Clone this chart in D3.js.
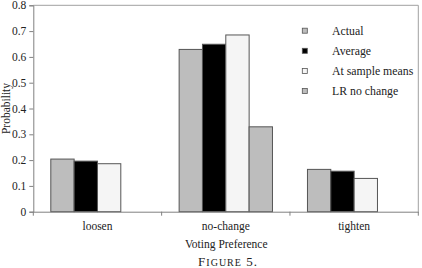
<!DOCTYPE html>
<html><head><meta charset="utf-8">
<script src="https://cdn.jsdelivr.net/npm/d3@7"></script>
<style>body{margin:0;background:#fff}svg{display:block}text{font-family:"Liberation Serif","DejaVu Serif",serif !important;fill:#222}</style>
</head><body>
<svg id="c" width="422" height="268"></svg>
<script>
const categories = ["loosen", "no-change", "tighten"];
const series = ["Actual", "Average", "At sample means", "LR no change"];
const actual = [0.204, 0.629, 0.164];
const average = [0.196, 0.649, 0.157];
const sampleMeans = [0.186, 0.685, 0.129];
const lrNoChange = [null, 0.329, null];
const yTicks = [0, 0.1, 0.2, 0.3, 0.4, 0.5, 0.6, 0.7, 0.8];
const colors = ["#bdbdbd", "#000000", "#f5f5f5", "#bdbdbd"];

const values = [actual, average, sampleMeans, lrNoChange];
const svg = d3.select("#c");
const L = 33.3, R = 418.3, T = 5.3, B = 211.7;
const FF = "'Liberation Serif', 'DejaVu Serif', serif";

const x0 = d3.scaleBand().domain(categories).range([L, R]).padding(0);
const x1 = d3.scaleBand().domain(series).range([0, x0.bandwidth()]).paddingInner(0).paddingOuter(0.75);
const y = d3.scaleLinear().domain([0, 0.8]).range([B, T]);

svg.append("path").attr("d", `M${L},${T}H${R}V${B}`).attr("fill","none").attr("stroke","#a0a0a0").attr("stroke-width",1);

categories.forEach((c, ci) => {
  series.forEach((s, si) => {
    const v = values[si][ci];
    if (v == null) return;
    svg.append("rect")
      .attr("x", x0(c) + x1(s))
      .attr("y", y(v))
      .attr("width", x1.bandwidth())
      .attr("height", y(0) - y(v))
      .attr("fill", colors[si])
      .attr("stroke", "#555")
      .attr("stroke-width", 1);
  });
});

const yAxis = svg.append("g").attr("transform", `translate(${L},0)`)
  .call(d3.axisLeft(y).tickValues(yTicks).tickSize(4).tickPadding(3).tickFormat(d => d === 0 ? "0" : d3.format(".1f")(d)));
yAxis.attr("font-family", FF);
yAxis.select(".domain").attr("stroke", "#808080");
yAxis.selectAll(".tick line").attr("stroke", "#808080");
yAxis.selectAll("text").attr("font-size", 11.5).attr("fill", "#222");

const xAxis = svg.append("g").attr("transform", `translate(0,${B})`)
  .call(d3.axisBottom(x0).tickSize(0).tickPadding(10));
xAxis.attr("font-family", FF);
xAxis.select(".domain").attr("stroke", "#808080");
xAxis.selectAll("text").attr("font-size", 11.5).attr("fill", "#222");
const bounds = categories.map(c => x0(c)).concat([x0(categories[categories.length-1]) + x0.bandwidth()]);
xAxis.selectAll(".bt").data(bounds).join("line").attr("class","bt")
  .attr("x1", d => d).attr("x2", d => d).attr("y1", 0).attr("y2", 4).attr("stroke", "#808080");

svg.append("text").attr("transform", `translate(9.5,${(T+B)/2}) rotate(-90)`).attr("text-anchor","middle")
  .attr("font-size", 11.5).text("Probability");
svg.append("text").attr("x", (L+R)/2 + 0.5).attr("y", 248).attr("text-anchor","middle")
  .attr("font-size", 11.5).text("Voting Preference");

const cap = svg.append("text").attr("x", 228).attr("y", 265.5).attr("text-anchor","middle").attr("letter-spacing", 1);
cap.append("tspan").attr("font-size", 13).text("F");
cap.append("tspan").attr("font-size", 10).text("IGURE");
cap.append("tspan").attr("font-size", 13).text(" 5.");

const lg = svg.append("g");
series.forEach((s, i) => {
  const yy = 30.7 + i * 20.1;
  lg.append("rect").attr("x", 302.3).attr("y", yy - 2.5).attr("width", 5).attr("height", 5)
    .attr("fill", colors[i]).attr("stroke", "#555").attr("stroke-width", 0.8);
  lg.append("text").attr("x", 332).attr("y", yy + 4).attr("font-size", 11.8).text(s);
});
</script>
</body></html>
